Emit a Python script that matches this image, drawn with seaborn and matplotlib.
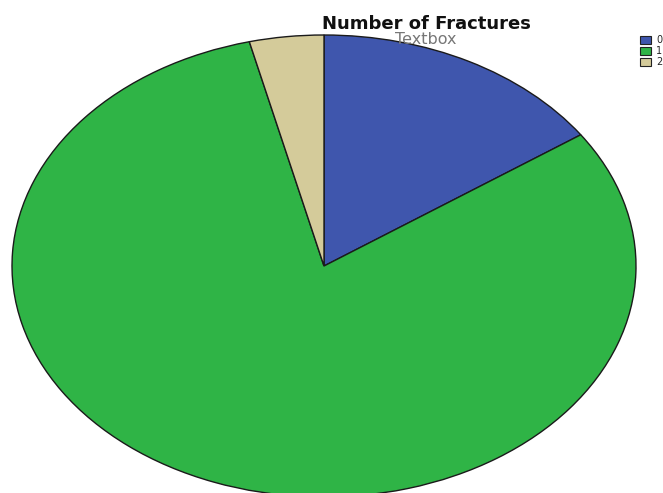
import matplotlib
matplotlib.use("Agg")
import matplotlib.pyplot as plt
import seaborn as sns

categories = ["0", "1", "2"]
counts = [4, 21, 1]
title = "Number of Fractures"
subtitle = "Textbox"

sns.set_style("white")
plt.rcParams['font.family'] = ['DejaVu Sans']
colors = ["#3f56ad", "#2fb446", "#d4cb9a"]

fig = plt.figure(figsize=(6.63, 4.93), dpi=100)
W, H = 663, 493
cx, cy, rx, ry = 324, 266, 312, 231
ax = fig.add_axes([(cx - rx) / W, (H - cy - ry) / H, 2 * rx / W, 2 * ry / H])
ax.pie(counts, colors=colors, startangle=90, counterclock=False,
       wedgeprops=dict(edgecolor="#1a1a1a", linewidth=1.0))
ax.set_aspect('auto')
ax.set_xlim(-1, 1)
ax.set_ylim(-1, 1)
ax.axis('off')

fig.text(426 / W, 1 - 29 / H, title, ha='center', va='baseline',
         fontsize=13, fontweight='bold', color='#111111')
fig.text(426 / W, 1 - 44 / H, subtitle, ha='center', va='baseline',
         fontsize=11.5, color='#777777')

from matplotlib.patches import Patch
handles = [Patch(facecolor=c, edgecolor='#222222', linewidth=0.8) for c in colors]
fig.legend(handles, categories, loc='upper left', bbox_to_anchor=(640 / W, 1 - 35 / H),
           frameon=False, fontsize=7, handlelength=1.15, handleheight=0.9,
           handletextpad=0.5, labelspacing=0.1, borderpad=0.0, borderaxespad=0.0)

fig.savefig("out.png", dpi=100)
